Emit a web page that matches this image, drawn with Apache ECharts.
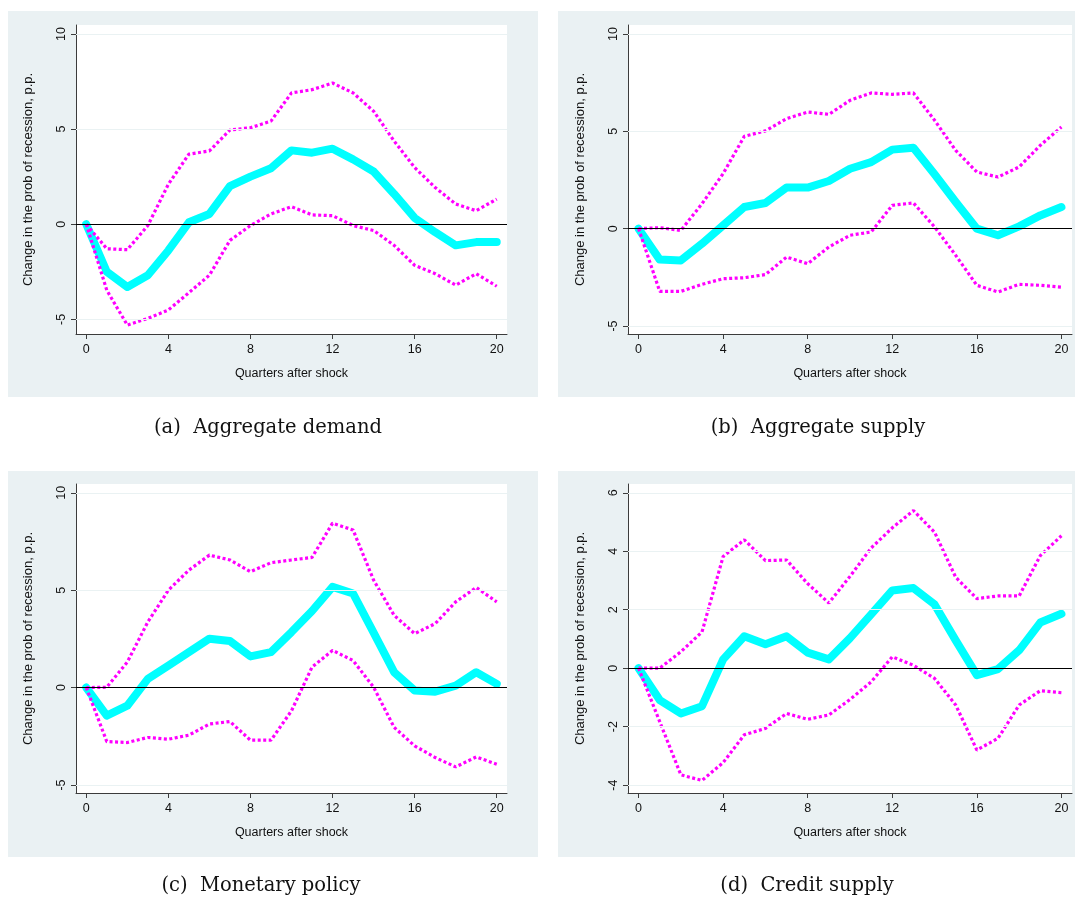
<!DOCTYPE html>
<html>
<head>
<meta charset="utf-8">
<script src="https://cdn.jsdelivr.net/npm/echarts@6/dist/echarts.min.js"></script>
<style>
  html, body { margin: 0; padding: 0; background: #ffffff; }
  #chart { width: 1075px; height: 897px; }
</style>
</head>
<body>
<div id="chart"></div>
<script>
// Quarters after the shock (horizon of the local projections)
const quarters = [0, 1, 2, 3, 4, 5, 6, 7, 8, 9, 10, 11, 12, 13, 14, 15, 16, 17, 18, 19, 20];

// (a) Aggregate demand: point estimate and confidence band
const demandIrf = [0, -2.50, -3.30, -2.68, -1.38, 0.10, 0.54, 2.00, 2.50, 2.94, 3.88, 3.76, 3.97, 3.41, 2.77, 1.59, 0.33, -0.42, -1.11, -0.94, -0.94];
const demandHi  = [0, -1.29, -1.34, -0.07, 2.10, 3.68, 3.85, 4.95, 5.07, 5.42, 6.90, 7.07, 7.42, 6.90, 5.94, 4.37, 2.98, 1.93, 1.06, 0.71, 1.32];
const demandLo  = [0, -3.47, -5.30, -4.95, -4.51, -3.60, -2.68, -0.85, -0.07, 0.54, 0.92, 0.49, 0.45, -0.07, -0.33, -1.11, -2.16, -2.60, -3.20, -2.60, -3.26];

// (b) Aggregate supply
const supplyIrf = [0, -1.59, -1.63, -0.77, 0.17, 1.11, 1.32, 2.11, 2.11, 2.45, 3.08, 3.42, 4.06, 4.16, 2.79, 1.37, 0.00, -0.34, 0.12, 0.68, 1.11];
const supplyHi  = [0, 0.05, -0.09, 1.28, 2.83, 4.74, 5.02, 5.65, 5.99, 5.87, 6.59, 6.97, 6.90, 6.97, 5.57, 4.02, 2.91, 2.65, 3.17, 4.28, 5.22];
const supplyLo  = [0, -3.22, -3.22, -2.86, -2.57, -2.52, -2.36, -1.46, -1.80, -0.94, -0.34, -0.17, 1.20, 1.32, 0.09, -1.37, -2.91, -3.25, -2.86, -2.91, -3.00];

// (c) Monetary policy
const policyIrf = [0, -1.44, -0.93, 0.45, 1.13, 1.82, 2.51, 2.39, 1.60, 1.82, 2.85, 3.93, 5.17, 4.83, 2.82, 0.79, -0.15, -0.21, 0.10, 0.79, 0.19];
const policyHi  = [0, 0.02, 1.31, 3.37, 5.00, 6.03, 6.80, 6.55, 5.95, 6.41, 6.55, 6.68, 8.44, 8.09, 5.52, 3.71, 2.77, 3.28, 4.40, 5.14, 4.40];
const policyLo  = [0, -2.77, -2.82, -2.56, -2.65, -2.44, -1.87, -1.74, -2.70, -2.70, -1.19, 1.05, 1.91, 1.39, 0.02, -2.04, -2.99, -3.59, -4.07, -3.56, -3.93];

// (d) Credit supply
const creditIrf = [0, -1.09, -1.55, -1.30, 0.30, 1.09, 0.82, 1.09, 0.53, 0.30, 1.03, 1.84, 2.66, 2.74, 2.18, 0.95, -0.24, -0.03, 0.61, 1.56, 1.86];
const creditHi  = [0, 0.00, 0.56, 1.24, 3.82, 4.39, 3.68, 3.70, 2.89, 2.23, 3.14, 4.11, 4.80, 5.39, 4.65, 3.11, 2.38, 2.47, 2.47, 3.85, 4.53];
const creditLo  = [0, -1.83, -3.65, -3.84, -3.23, -2.28, -2.06, -1.55, -1.75, -1.60, -1.07, -0.47, 0.39, 0.10, -0.35, -1.26, -2.80, -2.40, -1.26, -0.77, -0.84];

// Axis tick labels
const xTicks = [0, 4, 8, 12, 16, 20];
const yTicksWide = [-5, 0, 5, 10];
const yTicksCredit = [-4, -2, 0, 2, 4, 6];

// Panel captions
const captions = ['(a)  Aggregate demand', '(b)  Aggregate supply', '(c)  Monetary policy', '(d)  Credit supply'];

const panels = [
  { irf: demandIrf, hi: demandHi, lo: demandLo, ticks: yTicksWide, min: -5.77, max: 10.47,
    grid: { left: 76, top: 25, width: 431, height: 309 }, bg: [8, 11, 530, 386], cap: [268, 428] },
  { irf: supplyIrf, hi: supplyHi, lo: supplyLo, ticks: yTicksWide, min: -5.41, max: 10.46,
    grid: { left: 628, top: 25, width: 444, height: 309 }, bg: [558, 11, 517, 386], cap: [818, 428] },
  { irf: policyIrf, hi: policyHi, lo: policyLo, ticks: yTicksWide, min: -5.41, max: 10.45,
    grid: { left: 76, top: 484, width: 431, height: 309 }, bg: [8, 471, 530, 386], cap: [261, 886] },
  { irf: creditIrf, hi: creditHi, lo: creditLo, ticks: yTicksCredit, min: -4.27, max: 6.30,
    grid: { left: 628, top: 484, width: 444, height: 309 }, bg: [558, 471, 517, 386], cap: [807, 886] }
];

const pairs = (vals) => quarters.map((q, i) => [q, vals[i]]);

const axisColor = '#3c3c3c';
const gridColor = '#eaf2f3';
const fontSans = '"Liberation Sans", Arial, sans-serif';

const option = {
  animation: false,
  backgroundColor: '#ffffff',
  graphic: [],
  grid: [],
  xAxis: [],
  yAxis: [],
  series: []
};

panels.forEach((p, k) => {
  option.graphic.push({
    type: 'rect', z: -10, silent: true,
    shape: { x: p.bg[0], y: p.bg[1], width: p.bg[2], height: p.bg[3] },
    style: { fill: '#eaf1f3' }
  });
  option.graphic.push({
    type: 'text', silent: true, x: p.cap[0], y: p.cap[1],
    style: {
      text: captions[k], fill: '#111', font: '19.5px "DejaVu Serif", serif',
      align: 'center', verticalAlign: 'middle'
    }
  });

  option.grid.push(Object.assign({ show: true, backgroundColor: '#ffffff', borderWidth: 0 }, p.grid));

  option.xAxis.push({
    type: 'value', gridIndex: k, min: -0.5, max: 20.5,
    name: 'Quarters after shock', nameLocation: 'middle', nameGap: 33,
    nameTextStyle: { fontFamily: fontSans, fontSize: 12.5, color: '#111' },
    axisLine: { show: true, onZero: false, lineStyle: { color: axisColor, width: 1 } },
    axisTick: { show: true, length: 5, customValues: xTicks, lineStyle: { color: axisColor } },
    axisLabel: { customValues: xTicks, margin: 9, fontFamily: fontSans, fontSize: 12.5, color: '#111' },
    splitLine: { show: false }
  });

  option.yAxis.push({
    type: 'value', gridIndex: k, min: p.min, max: p.max,
    name: 'Change in the prob of recession, p.p.', nameLocation: 'middle', nameGap: 41,
    nameTextStyle: { fontFamily: fontSans, fontSize: 13, color: '#111' },
    axisLine: { show: true, onZero: false, lineStyle: { color: axisColor, width: 1 } },
    axisTick: { show: true, length: 5, customValues: p.ticks, lineStyle: { color: axisColor } },
    axisLabel: { customValues: p.ticks, rotate: 90, margin: 8, fontFamily: fontSans, fontSize: 12.5, color: '#111' },
    splitLine: { show: false }
  });

  // Horizontal grid lines at the labelled values, with a solid reference line at zero
  option.series.push({
    type: 'line', xAxisIndex: k, yAxisIndex: k, z: 1, silent: true,
    data: pairs(p.irf), showSymbol: false, lineStyle: { opacity: 0 },
    markLine: {
      silent: true, symbol: 'none', animation: false, label: { show: false },
      data: p.ticks.map(v => ({
        yAxis: v,
        lineStyle: v === 0 ? { color: '#000000', width: 1.2, type: 'solid' } : { color: gridColor, width: 1.2, type: 'solid' }
      }))
    }
  });

  // Point estimate
  option.series.push({
    type: 'line', xAxisIndex: k, yAxisIndex: k, z: 3, silent: true,
    data: pairs(p.irf), showSymbol: false,
    lineStyle: { color: '#00ffff', width: 8, cap: 'round', join: 'round' }
  });
  // Confidence band bounds
  [p.hi, p.lo].forEach(b => option.series.push({
    type: 'line', xAxisIndex: k, yAxisIndex: k, z: 4, silent: true,
    data: pairs(b), showSymbol: false,
    lineStyle: { color: '#ff00ff', width: 3.2, type: [3, 2.5] }
  }));
});

const chart = echarts.init(document.getElementById('chart'), null, { renderer: 'canvas' });
chart.setOption(option);
</script>
</body>
</html>
